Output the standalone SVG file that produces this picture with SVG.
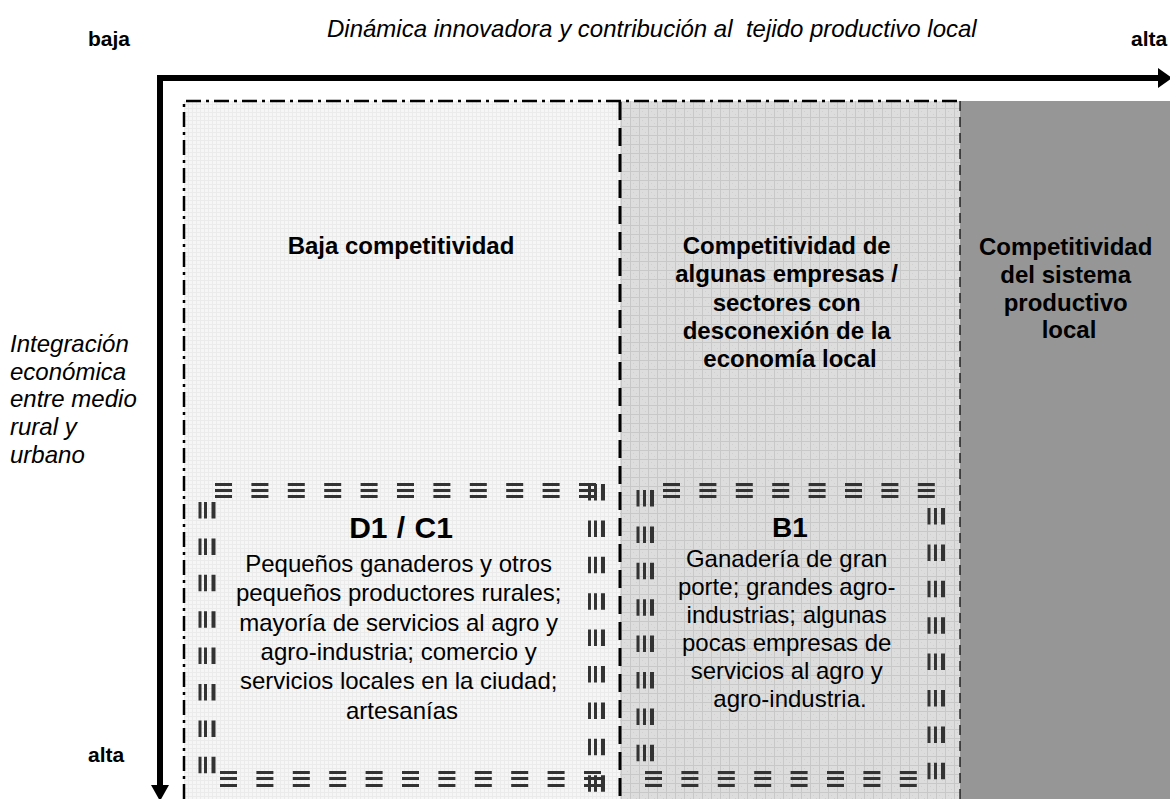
<svg xmlns="http://www.w3.org/2000/svg" width="1170" height="799" viewBox="0 0 1170 799">
<defs>
<pattern id="gridL" width="4" height="4" patternUnits="userSpaceOnUse">
<rect width="4" height="4" fill="#f6f6f6"/>
<path d="M0,0.5H4M0.5,0V4" stroke="#ebebeb" stroke-width="1"/>
</pattern>
<pattern id="gridM" width="9" height="9" patternUnits="userSpaceOnUse">
<rect width="9" height="9" fill="#dddddd"/>
<path d="M0,0.5H9M0.5,0V9" stroke="#c8c8c8" stroke-width="1"/>
<rect x="3" y="3" width="1" height="1" fill="#d0d0d0"/>
<rect x="6" y="6" width="1" height="1" fill="#d0d0d0"/>
</pattern>
<marker id="arrR" markerUnits="userSpaceOnUse" markerWidth="16" markerHeight="22" refX="0" refY="11" orient="auto">
<polygon points="0,1 14,11 0,21" fill="#000"/>
</marker>
</defs>
<style>
.t{font-family:"Liberation Sans",Arial,sans-serif;fill:#000}
.b{font-weight:bold}
.i{font-style:italic}
.h{stroke:#333;stroke-width:3;fill:none;stroke-dasharray:17 19.4}
.v{stroke:#333;stroke-width:3;fill:none;stroke-dasharray:16.5 19.9}
</style>

<g id="columns">
<rect id="col-left" x="184" y="101" width="436" height="698" fill="url(#gridL)"/>
<rect id="col-mid" x="620" y="101" width="340" height="698" fill="url(#gridM)"/>
<rect id="col-right" x="960" y="101" width="210" height="698" fill="#969696"/>
<path d="M184,799V101H960" fill="none" stroke="#000" stroke-width="2.5" stroke-dasharray="15 5 3 5"/>
<line x1="620" y1="102" x2="620" y2="799" stroke="#000" stroke-width="3" stroke-dasharray="18 8"/>
<line x1="960" y1="101" x2="960" y2="799" stroke="#000" stroke-width="1.2" stroke-dasharray="10 6"/>
</g>

<g id="connectors">
<path d="M160,786V78H1158" fill="none" stroke="#000" stroke-width="6" stroke-linejoin="miter" marker-end="url(#arrR)"/>
<polygon points="151,785 160,801 169,785" fill="#000"/>
</g>

<g id="axis-labels">
<text class="t b" x="88" y="46" font-size="21">baja</text>
<text class="t b" x="1131" y="46" font-size="21">alta</text>
<text class="t b" x="88" y="762" font-size="21">alta</text>
<text class="t i" x="327" y="37" font-size="24" xml:space="preserve">Dinámica innovadora y contribución al  tejido productivo local</text>
<text class="t i" font-size="24">
<tspan x="10" y="352">Integración</tspan>
<tspan x="10" y="380">económica</tspan>
<tspan x="10" y="407">entre medio</tspan>
<tspan x="10" y="435">rural y</tspan>
<tspan x="10" y="463">urbano</tspan>
</text>
</g>

<g id="heading-left">
<text class="t b" x="401" y="254" font-size="24" text-anchor="middle">Baja competitividad</text>
</g>
<g id="heading-mid">
<text class="t b" font-size="24" text-anchor="middle">
<tspan x="790" y="254">Competitividad de</tspan>
<tspan x="790" y="282">algunas empresas /</tspan>
<tspan x="790" y="311">sectores con</tspan>
<tspan x="790" y="339">desconexión de la</tspan>
<tspan x="790" y="367">economía local</tspan>
</text>
</g>
<g id="heading-right">
<text class="t b" font-size="24" text-anchor="middle">
<tspan x="1069" y="255">Competitividad</tspan>
<tspan x="1069" y="283">del sistema</tspan>
<tspan x="1069" y="311">productivo</tspan>
<tspan x="1069" y="338">local</tspan>
</text>
</g>

<g id="box-D1C1">
<path class="h" d="M215,484.5H597M215,490.5H597M215,496.5H597"/>
<path class="h" d="M220,772.5H602M220,778.5H602M220,785.5H602"/>
<path class="v" d="M200,502V775M205.5,502V775"/>
<path class="v" d="M213.5,502V775" style="stroke-width:4"/>
<path class="v" d="M589.5,484V793M595.5,484V793"/>
<path class="v" d="M603,484V793" style="stroke-width:4"/>
<text class="t b" x="401" y="538" font-size="30" text-anchor="middle" word-spacing="1">D1 / C1</text>
<text class="t" font-size="24" text-anchor="middle">
<tspan x="402" y="572">Pequeños ganaderos y otros</tspan>
<tspan x="402" y="601.3">pequeños productores rurales;</tspan>
<tspan x="402" y="630.6">mayoría de servicios al agro y</tspan>
<tspan x="402" y="659.9">agro-industria; comercio y</tspan>
<tspan x="402" y="689.2">servicios locales en la ciudad;</tspan>
<tspan x="402" y="718.5">artesanías</tspan>
</text>
</g>

<g id="box-B1">
<path class="h" d="M663,484.5H937M663,490.5H937M663,496.5H937"/>
<path class="h" d="M645,772.5H919M645,778.5H919M645,785.5H919"/>
<path class="v" d="M638,490V763M644.5,490V763"/>
<path class="v" d="M652,490V763" style="stroke-width:4"/>
<path class="v" d="M929,508V781M935.5,508V781"/>
<path class="v" d="M943,508V781" style="stroke-width:4"/>
<text class="t b" x="790" y="537" font-size="28" text-anchor="middle">B1</text>
<text class="t" font-size="24" text-anchor="middle">
<tspan x="790" y="567">Ganadería de gran</tspan>
<tspan x="790" y="595">porte; grandes agro-</tspan>
<tspan x="790" y="623">industrias; algunas</tspan>
<tspan x="790" y="651">pocas empresas de</tspan>
<tspan x="790" y="679">servicios al agro y</tspan>
<tspan x="790" y="707">agro-industria.</tspan>
</text>
</g>
</svg>
